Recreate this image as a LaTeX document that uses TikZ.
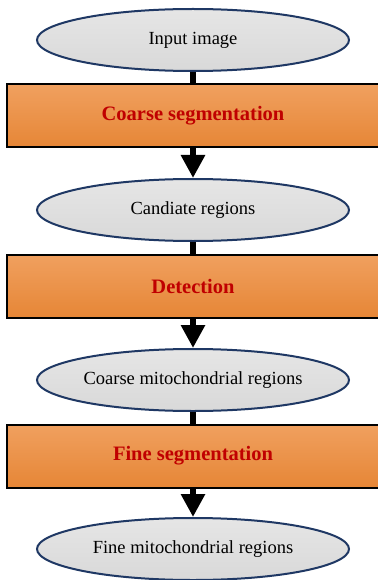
\documentclass[tikz,border=0pt]{standalone}
\usepackage{fontspec}
\setmainfont{Liberation Serif}
\usetikzlibrary{arrows.meta,shapes.geometric}
\definecolor{navyline}{HTML}{1F3864}
\definecolor{darkred}{HTML}{C00000}

\begin{document}
\begin{tikzpicture}[x=1pt,y=1pt,
    data/.style={ellipse,draw=navyline,line width=2pt,top color=gray!20,bottom color=gray!30,
        minimum width=312pt,minimum height=62pt,inner sep=0pt,font=\fontsize{18.5}{22}\selectfont},
    stage/.style={rectangle,draw=black,line width=2pt,top color={rgb,255:red,240;green,160;blue,95},
        bottom color={rgb,255:red,230;green,134;blue,54},minimum width=372pt,minimum height=63pt,
        inner sep=0pt,text=darkred,font=\fontsize{20.5}{24}\selectfont\bfseries},
    link/.style={line width=6.5pt,black},
    flow/.style={line width=6.5pt,black,-{Triangle[width=23pt,length=23pt]}}]
    \useasboundingbox (0,0) rectangle (377,-580);
    \node[data] (img) at (193,-40) {Input image};
    \node[stage] (cseg) at (193,-116) {Coarse segmentation};
    \node[data] (cand) at (193,-210) {Candiate regions};
    \node[stage] (det) at (193,-286) {Detection};
    \node[data] (cmr) at (193,-380) {Coarse mitochondrial regions};
    \node[stage] (fseg) at (193,-456) {Fine segmentation};
    \node[data] (fmr) at (193,-549) {Fine mitochondrial regions};
    \draw[link] (img) -- (cseg);
    \draw[flow] (cseg) -- (cand);
    \draw[link] (cand) -- (det);
    \draw[flow] (det) -- (cmr);
    \draw[link] (cmr) -- (fseg);
    \draw[flow] (fseg) -- (fmr);
\end{tikzpicture}
\end{document}
